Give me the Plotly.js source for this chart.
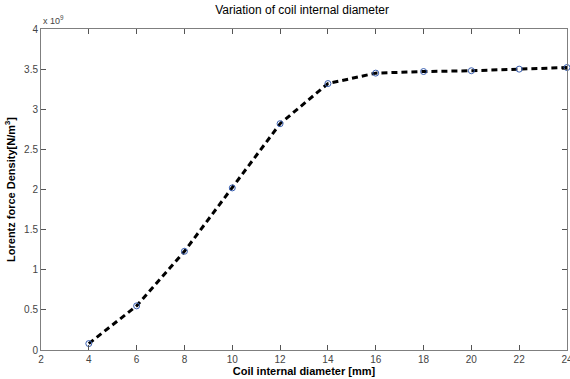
<!DOCTYPE html>
<html><head><meta charset="utf-8">
<script src="https://cdn.plot.ly/plotly-3.0.1.min.js"></script>
<style>html,body{margin:0;padding:0;background:#fff;}#chart{width:570px;height:379px;}</style>
</head><body><div id="chart"></div>
<script>
const diameterMm = [4, 6, 8, 10, 12, 14, 16, 18, 20, 22, 24];
const lorentzDensity = [0.08, 0.55, 1.23, 2.02, 2.82, 3.32, 3.45, 3.47, 3.48, 3.50, 3.52]; // x 10^9 N/m^3
const xTicks = [2, 4, 6, 8, 10, 12, 14, 16, 18, 20, 22, 24];
const yTicks = [0, 0.5, 1, 1.5, 2, 2.5, 3, 3.5, 4];
const yTickText = ['0', '0.5', '1', '1.5', '2', '2.5', '3', '3.5', '4'];

const trace = {
  x: diameterMm, y: lorentzDensity, type: 'scatter', mode: 'lines+markers',
  line: {color: '#000', width: 3, dash: '6px,4px'},
  marker: {symbol: 'circle-open', size: 6, color: '#3a5fb0', line: {width: 1}},
  cliponaxis: false
};
const axisCommon = {
  showgrid: false, zeroline: false, showline: true, linecolor: '#7f7f7f', linewidth: 1,
  mirror: 'ticks', ticks: 'inside', ticklen: 5, tickcolor: '#555', tickwidth: 1,
  ticklabeloverflow: 'allow',
  tickfont: {family: 'Liberation Sans, Arial, sans-serif', size: 10, color: '#444'}
};
const layout = {
  width: 570, height: 379,
  margin: {l: 41, r: 3, t: 29, b: 29},
  paper_bgcolor: '#fff', plot_bgcolor: '#fff',
  showlegend: false,
  title: {text: 'Variation of coil internal diameter', x: 0.53, xanchor: 'center', y: 0.985, yanchor: 'top',
          font: {family: 'Liberation Sans, Arial, sans-serif', size: 12, color: '#000'}},
  xaxis: Object.assign({}, axisCommon, {
    range: [2, 24], tickvals: xTicks, ticktext: xTicks.map(String),
    title: {text: '<b>Coil internal diameter [mm]</b>', standoff: 0,
            font: {family: 'Liberation Sans, Arial, sans-serif', size: 11, color: '#000'}}
  }),
  yaxis: Object.assign({}, axisCommon, {
    range: [0, 4], tickvals: yTicks, ticktext: yTickText,
    title: {text: '<b>Lorentz force Density[N/m<sup>3</sup>]</b>', standoff: 6,
            font: {family: 'Liberation Sans, Arial, sans-serif', size: 11, color: '#000'}}
  }),
  annotations: [{
    text: 'x 10<sup>9</sup>', xref: 'paper', yref: 'paper', x: 0.0, y: 1.0,
    xanchor: 'left', yanchor: 'bottom', showarrow: false, xshift: 0, yshift: 1,
    font: {family: 'Liberation Sans, Arial, sans-serif', size: 9, color: '#444'}
  }]
};
Plotly.newPlot('chart', [trace], layout, {displayModeBar: false, staticPlot: true});
</script></body></html>
